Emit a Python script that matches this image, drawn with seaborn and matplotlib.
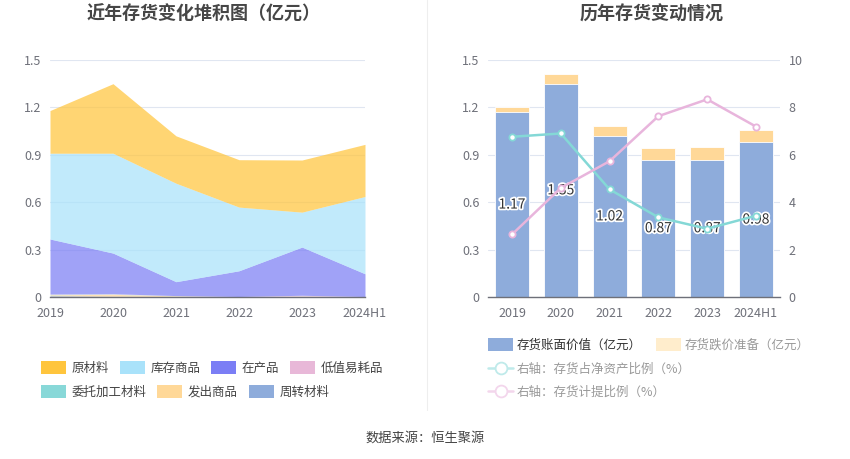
import matplotlib
matplotlib.use("Agg")
import matplotlib.pyplot as plt
import matplotlib.patheffects as pe
from matplotlib.patches import Patch
from matplotlib.lines import Line2D
import numpy as np
import pandas as pd
import seaborn as sns

# ---- data ----
years = ["2019", "2020", "2021", "2022", "2023", "2024H1"]

# left chart, inventory components (亿元)
raw_material = [0.27, 0.44, 0.30, 0.30, 0.33, 0.33]        # 原材料
stock_goods = [0.543, 0.632, 0.623, 0.403, 0.221, 0.489]   # 库存商品
wip = [0.348, 0.257, 0.088, 0.163, 0.305, 0.144]           # 在产品
low_value = [0.002, 0.002, 0.001, 0.001, 0.005, 0.001]     # 低值易耗品
consigned = [0.003, 0.002, 0.001, 0.0, 0.001, 0.0]         # 委托加工材料
shipped = [0.006, 0.012, 0.004, 0.001, 0.003, 0.001]       # 发出商品
turnover = [0.008, 0.005, 0.003, 0.001, 0.002, 0.001]      # 周转材料

# right chart
book_value = [1.17, 1.35, 1.02, 0.87, 0.87, 0.98]          # 存货账面价值
reserve = [0.03, 0.06, 0.06, 0.07, 0.08, 0.08]             # 存货跌价准备
net_asset_ratio = [6.76, 6.90, 4.54, 3.36, 2.88, 3.43]     # 存货占净资产比例 %
provision_ratio = [2.64, 4.60, 5.73, 7.63, 8.34, 7.19]     # 存货计提比例 %

sns.set_theme(style="white")
plt.rcParams["font.family"] = ["Noto Sans CJK SC", "DejaVu Sans"]
plt.rcParams["axes.unicode_minus"] = False

TICK = "#6e7079"
GRID = "#e0e6f1"

fig = plt.figure(figsize=(8.5, 4.59), dpi=100)

# ---- left: stacked area ----
ax1 = fig.add_axes([50 / 850, 1 - 297 / 459, 315 / 850, 237 / 459])
x = np.arange(len(years))
layers = [turnover, shipped, consigned, low_value, wip, stock_goods, raw_material]
layer_colors = ["#8eacdb", "#ffd898", "#88d8d8", "#e8b8d8", "#7b7ef5", "#a9e2fa", "#ffc53d"]
ax1.stackplot(x, *layers, colors=layer_colors, alpha=0.72, linewidth=0)
ax1.set_xlim(0, 5)
ax1.set_ylim(0, 1.5)
ax1.set_yticks([0, 0.3, 0.6, 0.9, 1.2, 1.5])
ax1.set_yticklabels(["0", "0.3", "0.6", "0.9", "1.2", "1.5"])
ax1.set_xticks(x)
ax1.set_xticklabels(years)

# ---- right: stacked bars + lines ----
ax2 = fig.add_axes([487.6 / 850, 1 - 297 / 459, 292.8 / 850, 237 / 459])
df = pd.DataFrame({"year": years, "book": book_value, "reserve": reserve})
df["total"] = df["book"] + df["reserve"]
sns.barplot(data=df, x="year", y="total", color="#ffd898", width=0.7,
            saturation=1, ax=ax2, edgecolor="white", linewidth=0.6)
sns.barplot(data=df, x="year", y="book", color="#8eacdb", width=0.7,
            saturation=1, ax=ax2, edgecolor="white", linewidth=0.6)
for i, v in enumerate(book_value):
    ax2.text(i, v / 2, f"{v:.2f}", ha="center", va="center", fontsize=10,
             color="#333333", zorder=10,
             path_effects=[pe.withStroke(linewidth=2.5, foreground="white")])
ax2.set_xlim(-0.5, 5.5)
ax2.set_ylim(0, 1.5)
ax2.set_yticks([0, 0.3, 0.6, 0.9, 1.2, 1.5])
ax2.set_yticklabels(["0", "0.3", "0.6", "0.9", "1.2", "1.5"])
ax2.set_xlabel("")
ax2.set_ylabel("")

ax3 = ax2.twinx()
ldf = pd.DataFrame({"x": x, "net": net_asset_ratio, "prov": provision_ratio})
sns.lineplot(data=ldf, x="x", y="net", color="#84d8d6", linewidth=1.8, marker="o",
             markersize=4.5, markerfacecolor="white", markeredgecolor="#84d8d6",
             markeredgewidth=1.3, ax=ax3)
sns.lineplot(data=ldf, x="x", y="prov", color="#e8b5dc", linewidth=1.8, marker="o",
             markersize=4.5, markerfacecolor="white", markeredgecolor="#e8b5dc",
             markeredgewidth=1.3, ax=ax3)
ax3.set_ylim(0, 10)
ax3.set_yticks([0, 2, 4, 6, 8, 10])
ax3.set_xlim(-0.5, 5.5)
ax3.set_xlabel("")
ax3.set_ylabel("")

for ax in (ax1, ax2, ax3):
    for s in ("top", "left", "right"):
        ax.spines[s].set_visible(False)
    ax.spines["bottom"].set_color(TICK)
    ax.spines["bottom"].set_linewidth(1)
    ax.tick_params(axis="both", labelsize=9, labelcolor=TICK)
    ax.tick_params(axis="y", length=0, pad=6)
    ax.tick_params(axis="x", length=5, color=TICK, width=1, pad=2)
for ax in (ax1, ax2):
    ax.yaxis.grid(True, color=GRID, linewidth=0.8)
    ax.set_axisbelow(True)
ax3.spines["bottom"].set_visible(False)

# ---- titles, divider, source ----
fig.text(204 / 850, 1 - 14 / 459, "近年存货变化堆积图（亿元）", ha="center", va="center",
         fontsize=13, fontweight="bold", color="#464646")
fig.text(652 / 850, 1 - 14 / 459, "历年存货变动情况", ha="center", va="center",
         fontsize=13, fontweight="bold", color="#464646")
fig.add_artist(Line2D([427 / 850, 427 / 850], [1 - 410 / 459, 1], color="#eeeeee",
                      linewidth=0.8))
fig.text(425 / 850, 1 - 438 / 459, "数据来源：恒生聚源", ha="center", va="center",
         fontsize=9.5, color="#444444")

# ---- legends ----
def sq(c):
    return Patch(facecolor=c, edgecolor="none")

leg_kw = dict(frameon=False, fontsize=9, handlelength=2.0, handleheight=1.15,
              handletextpad=0.45, columnspacing=0.85, borderaxespad=0, borderpad=0)
l1 = fig.legend([sq("#ffc53d"), sq("#a9e2fa"), sq("#7b7ef5"), sq("#e8b8d8")],
                ["原材料", "库存商品", "在产品", "低值易耗品"], ncol=4,
                loc="center left", bbox_to_anchor=(41 / 850, 1 - 368 / 459), **leg_kw)
l2 = fig.legend([sq("#88d8d8"), sq("#ffd898"), sq("#8eacdb")],
                ["委托加工材料", "发出商品", "周转材料"], ncol=3,
                loc="center left", bbox_to_anchor=(41 / 850, 1 - 392 / 459), **leg_kw)
for t in list(l1.get_texts()) + list(l2.get_texts()):
    t.set_color("#444444")

l3 = fig.legend([sq("#8eacdb"), sq("#ffedcc")], ["存货账面价值（亿元）", "存货跌价准备（亿元）"],
                ncol=2, loc="center left", bbox_to_anchor=(488 / 850, 1 - 345 / 459),
                **{**leg_kw, "handletextpad": 0.3, "columnspacing": 1.1})
l3.get_texts()[0].set_color("#333333")
l3.get_texts()[1].set_color("#999999")
line_kw = dict(marker="o", markersize=8.5, markerfacecolor="white", markeredgewidth=1.3,
               linewidth=1.8)
l4 = fig.legend([Line2D([], [], color="#bfeaea", markeredgecolor="#bfeaea", **line_kw)],
                ["右轴：存货占净资产比例（%）"], loc="center left",
                bbox_to_anchor=(488 / 850, 1 - 369 / 459),
                **{**leg_kw, "handletextpad": 0.3})
l5 = fig.legend([Line2D([], [], color="#f3d6ec", markeredgecolor="#f3d6ec", **line_kw)],
                ["右轴：存货计提比例（%）"], loc="center left",
                bbox_to_anchor=(488 / 850, 1 - 392 / 459),
                **{**leg_kw, "handletextpad": 0.3})
for t in list(l4.get_texts()) + list(l5.get_texts()):
    t.set_color("#999999")

fig.savefig("out.png", dpi=100)
